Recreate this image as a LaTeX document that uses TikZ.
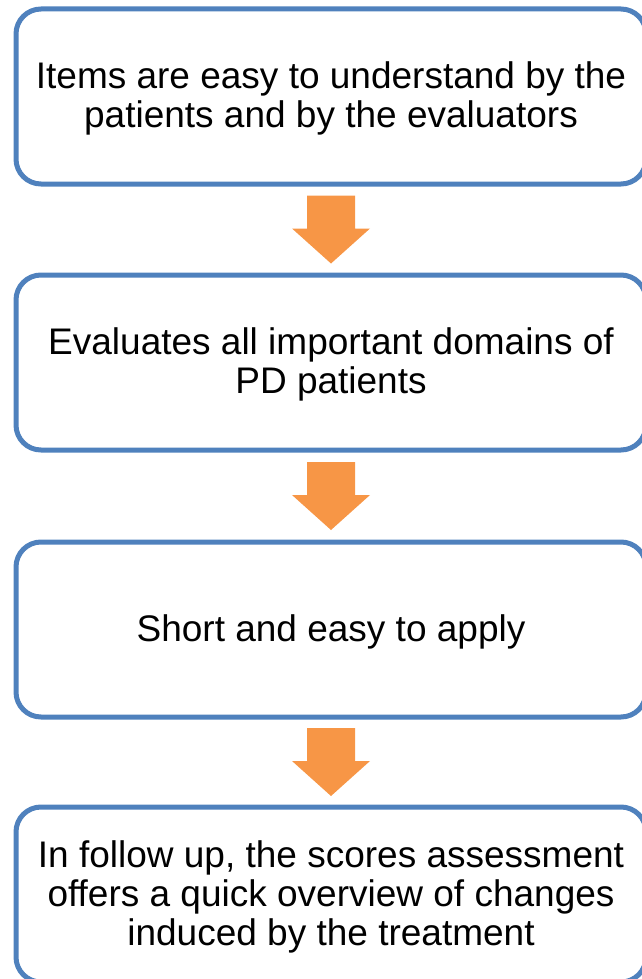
\documentclass[tikz,border=0pt]{standalone}
\usepackage{fontspec}
\setmainfont{Liberation Sans}
\usetikzlibrary{calc}
\definecolor{boxblue}{HTML}{4F81BD}
\definecolor{arroworange}{HTML}{F79646}
\begin{document}
\begin{tikzpicture}[x=1pt,y=1pt,
  stepbox/.style={draw=boxblue, line width=5pt, rounded corners=25pt, fill=white,
    minimum width=630pt, minimum height=175pt, align=center, inner sep=0pt,
    font=\fontsize{37}{39}\selectfont},
  steptext/.style={align=center, inner sep=0pt, font=\fontsize{37}{39}\selectfont},
  blockarrow/.pic={\fill[arroworange] (-24,34) -- (24,34) -- (24,1) -- (39,1) -- (0,-34) -- (-39,1) -- (-24,1) -- cycle;}
]
\useasboundingbox (0,0) rectangle (641,-979);
% boxes
\node[stepbox] (b1) at (331,-96.5) {};
\node[stepbox] (b2) at (331,-362.5) {};
\node[stepbox] (b3) at (331,-629.5) {};
\node[stepbox] (b4) at (331,-894.5) {};
% labels, set a little below each box centre
\node[steptext] (t1) at ($(b1.center)+(0,-2)$) {Items are easy to understand by the\\patients and by the evaluators};
\node[steptext] (t2) at ($(b2.center)+(0,-2)$) {Evaluates all important domains of\\PD patients};
\node[steptext] (t3) at ($(b3.center)+(0,-2)$) {Short and easy to apply};
\node[steptext] (t4) at ($(b4.center)+(0,-2)$) {In follow up, the scores assessment\\offers a quick overview of changes\\induced by the treatment};
% block arrows between boxes
\coordinate (a1) at ($(b1.south)!0.5!(b2.north)$);
\coordinate (a2) at ($(b2.south)!0.5!(b3.north)$);
\coordinate (a3) at ($(b3.south)!0.5!(b4.north)$);
\pic at (a1) {blockarrow};
\pic at (a2) {blockarrow};
\pic at (a3) {blockarrow};
\end{tikzpicture}
\end{document}
